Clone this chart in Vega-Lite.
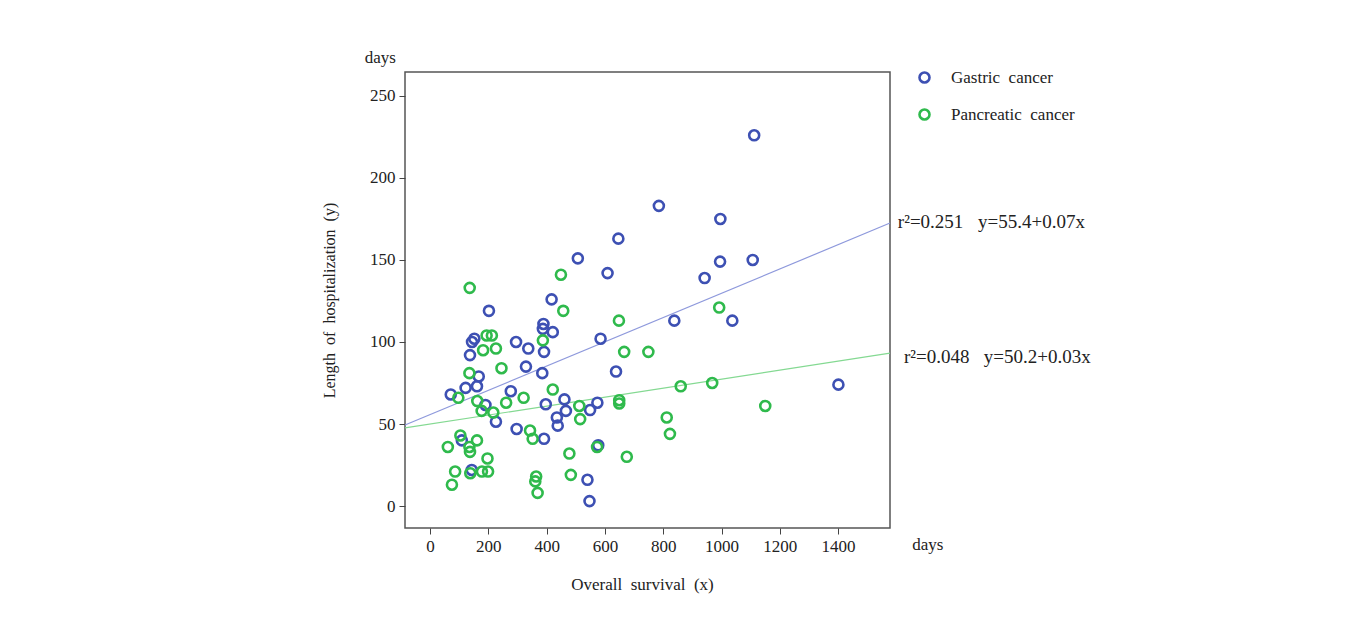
{
  "$schema": "https://vega.github.io/schema/vega-lite/v6.json",
  "width": 485,
  "height": 456,
  "autosize": {"type": "none"},
  "padding": {"left": 405, "top": 72, "right": 465, "bottom": 93},
  "background": "white",
  "config": {
    "view": {"stroke": "#555555", "strokeWidth": 1.5},
    "font": "Liberation Serif",
    "axis": {
      "grid": false,
      "domain": false,
      "tickColor": "#444444",
      "tickSize": 6,
      "labelFont": "Liberation Serif",
      "labelFontSize": 17,
      "labelColor": "#222222",
      "titleFont": "Liberation Serif",
      "titleFontSize": 17,
      "titleFontWeight": "normal",
      "titleColor": "#222222"
    }
  },
  "datasets": {
    "pts": [
      {"os": 1112, "los": 226, "group": "Gastric cancer"},
      {"os": 785, "los": 183, "group": "Gastric cancer"},
      {"os": 996, "los": 175, "group": "Gastric cancer"},
      {"os": 646, "los": 163, "group": "Gastric cancer"},
      {"os": 507, "los": 151, "group": "Gastric cancer"},
      {"os": 995, "los": 149, "group": "Gastric cancer"},
      {"os": 1107, "los": 150, "group": "Gastric cancer"},
      {"os": 609, "los": 142, "group": "Gastric cancer"},
      {"os": 942, "los": 139, "group": "Gastric cancer"},
      {"os": 417, "los": 126, "group": "Gastric cancer"},
      {"os": 202, "los": 119, "group": "Gastric cancer"},
      {"os": 838, "los": 113, "group": "Gastric cancer"},
      {"os": 1037, "los": 113, "group": "Gastric cancer"},
      {"os": 389, "los": 111, "group": "Gastric cancer"},
      {"os": 387, "los": 108, "group": "Gastric cancer"},
      {"os": 421, "los": 106, "group": "Gastric cancer"},
      {"os": 152, "los": 102, "group": "Gastric cancer"},
      {"os": 144, "los": 100, "group": "Gastric cancer"},
      {"os": 295, "los": 100, "group": "Gastric cancer"},
      {"os": 585, "los": 102, "group": "Gastric cancer"},
      {"os": 337, "los": 96, "group": "Gastric cancer"},
      {"os": 391, "los": 94, "group": "Gastric cancer"},
      {"os": 137, "los": 92, "group": "Gastric cancer"},
      {"os": 329, "los": 85, "group": "Gastric cancer"},
      {"os": 385, "los": 81, "group": "Gastric cancer"},
      {"os": 638, "los": 82, "group": "Gastric cancer"},
      {"os": 167, "los": 79, "group": "Gastric cancer"},
      {"os": 122, "los": 72, "group": "Gastric cancer"},
      {"os": 161, "los": 73, "group": "Gastric cancer"},
      {"os": 71, "los": 68, "group": "Gastric cancer"},
      {"os": 277, "los": 70, "group": "Gastric cancer"},
      {"os": 1401, "los": 74, "group": "Gastric cancer"},
      {"os": 397, "los": 62, "group": "Gastric cancer"},
      {"os": 461, "los": 65, "group": "Gastric cancer"},
      {"os": 466, "los": 58, "group": "Gastric cancer"},
      {"os": 435, "los": 54, "group": "Gastric cancer"},
      {"os": 438, "los": 49, "group": "Gastric cancer"},
      {"os": 574, "los": 63, "group": "Gastric cancer"},
      {"os": 549, "los": 58.5, "group": "Gastric cancer"},
      {"os": 190, "los": 61.6, "group": "Gastric cancer"},
      {"os": 226, "los": 51.4, "group": "Gastric cancer"},
      {"os": 297, "los": 47, "group": "Gastric cancer"},
      {"os": 391, "los": 41, "group": "Gastric cancer"},
      {"os": 109, "los": 40, "group": "Gastric cancer"},
      {"os": 577, "los": 37, "group": "Gastric cancer"},
      {"os": 143, "los": 22, "group": "Gastric cancer"},
      {"os": 540, "los": 16, "group": "Gastric cancer"},
      {"os": 547, "los": 3, "group": "Gastric cancer"},
      {"os": 449, "los": 141, "group": "Pancreatic cancer"},
      {"os": 136, "los": 133, "group": "Pancreatic cancer"},
      {"os": 457, "los": 119, "group": "Pancreatic cancer"},
      {"os": 648, "los": 113, "group": "Pancreatic cancer"},
      {"os": 194, "los": 104, "group": "Pancreatic cancer"},
      {"os": 212, "los": 104, "group": "Pancreatic cancer"},
      {"os": 387, "los": 101, "group": "Pancreatic cancer"},
      {"os": 182, "los": 95, "group": "Pancreatic cancer"},
      {"os": 226, "los": 96, "group": "Pancreatic cancer"},
      {"os": 666, "los": 94, "group": "Pancreatic cancer"},
      {"os": 749, "los": 94, "group": "Pancreatic cancer"},
      {"os": 245, "los": 84, "group": "Pancreatic cancer"},
      {"os": 135, "los": 81, "group": "Pancreatic cancer"},
      {"os": 421, "los": 71, "group": "Pancreatic cancer"},
      {"os": 97, "los": 66, "group": "Pancreatic cancer"},
      {"os": 162, "los": 64, "group": "Pancreatic cancer"},
      {"os": 177, "los": 58, "group": "Pancreatic cancer"},
      {"os": 217, "los": 57, "group": "Pancreatic cancer"},
      {"os": 261, "los": 63, "group": "Pancreatic cancer"},
      {"os": 321, "los": 66, "group": "Pancreatic cancer"},
      {"os": 512, "los": 61, "group": "Pancreatic cancer"},
      {"os": 515, "los": 53, "group": "Pancreatic cancer"},
      {"os": 649, "los": 64.5, "group": "Pancreatic cancer"},
      {"os": 649, "los": 62.5, "group": "Pancreatic cancer"},
      {"os": 812, "los": 54, "group": "Pancreatic cancer"},
      {"os": 823, "los": 44, "group": "Pancreatic cancer"},
      {"os": 860, "los": 73, "group": "Pancreatic cancer"},
      {"os": 968, "los": 75, "group": "Pancreatic cancer"},
      {"os": 992, "los": 121, "group": "Pancreatic cancer"},
      {"os": 1150, "los": 61, "group": "Pancreatic cancer"},
      {"os": 343, "los": 46, "group": "Pancreatic cancer"},
      {"os": 352, "los": 41, "group": "Pancreatic cancer"},
      {"os": 104, "los": 43, "group": "Pancreatic cancer"},
      {"os": 135, "los": 36, "group": "Pancreatic cancer"},
      {"os": 137, "los": 33, "group": "Pancreatic cancer"},
      {"os": 161, "los": 40, "group": "Pancreatic cancer"},
      {"os": 61, "los": 36, "group": "Pancreatic cancer"},
      {"os": 197, "los": 29, "group": "Pancreatic cancer"},
      {"os": 478, "los": 32, "group": "Pancreatic cancer"},
      {"os": 573, "los": 36, "group": "Pancreatic cancer"},
      {"os": 675, "los": 30, "group": "Pancreatic cancer"},
      {"os": 86, "los": 21, "group": "Pancreatic cancer"},
      {"os": 138, "los": 20, "group": "Pancreatic cancer"},
      {"os": 178, "los": 21, "group": "Pancreatic cancer"},
      {"os": 199, "los": 21, "group": "Pancreatic cancer"},
      {"os": 75, "los": 13, "group": "Pancreatic cancer"},
      {"os": 364, "los": 18, "group": "Pancreatic cancer"},
      {"os": 361, "los": 15, "group": "Pancreatic cancer"},
      {"os": 369, "los": 8, "group": "Pancreatic cancer"},
      {"os": 483, "los": 19, "group": "Pancreatic cancer"}
    ],
    "fits": [
      {"os": -86, "los": 49.4, "group": "Gastric cancer"},
      {"os": 1578, "los": 172.5, "group": "Gastric cancer"},
      {"os": -86, "los": 47.6, "group": "Pancreatic cancer"},
      {"os": 1578, "los": 93.2, "group": "Pancreatic cancer"}
    ],
    "notes": [
      {"os": 1605, "los": 173.2, "label": "r²=0.251"},
      {"os": 1880, "los": 173.2, "label": "y=55.4+0.07x"},
      {"os": 1626, "los": 90.9, "label": "r²=0.048"},
      {"os": 1900, "los": 90.9, "label": "y=50.2+0.03x"}
    ],
    "units": [
      {"os": -171, "los": 273, "label": "days"},
      {"os": 1708, "los": -23.8, "label": "days"}
    ]
  },
  "layer": [
    {
      "data": {"name": "fits"},
      "transform": [{"filter": "datum.group === 'Gastric cancer'"}],
      "mark": {"type": "line", "color": "#8e99dc", "strokeWidth": 1.2},
      "encoding": {
        "x": {"field": "os", "type": "quantitative", "scale": {"domain": [-86, 1578], "nice": false, "zero": false}},
        "y": {"field": "los", "type": "quantitative", "scale": {"domain": [-13.4, 264.6], "nice": false, "zero": false}}
      }
    },
    {
      "data": {"name": "fits"},
      "transform": [{"filter": "datum.group === 'Pancreatic cancer'"}],
      "mark": {"type": "line", "color": "#84d992", "strokeWidth": 1.2},
      "encoding": {
        "x": {"field": "os", "type": "quantitative"},
        "y": {"field": "los", "type": "quantitative"}
      }
    },
    {
      "data": {"name": "pts"},
      "mark": {"type": "point", "shape": "circle", "filled": false, "size": 100, "strokeWidth": 2.6, "opacity": 1},
      "encoding": {
        "x": {
          "field": "os", "type": "quantitative",
          "axis": {"values": [0, 200, 400, 600, 800, 1000, 1200, 1400], "format": "d", "labelPadding": 4, "title": "Overall\u00a0\u00a0survival\u00a0\u00a0(x)", "titleX": 237, "titleY": 56, "titleBaseline": "middle", "titleAlign": "center"}
        },
        "y": {
          "field": "los", "type": "quantitative",
          "axis": {"values": [0, 50, 100, 150, 200, 250], "labelPadding": 4, "title": "Length\u00a0\u00a0of\u00a0\u00a0hospitalization\u00a0\u00a0(y)", "titleFontSize": 16, "titleX": -76, "titleY": 228, "titleBaseline": "middle", "titleAlign": "center", "titleAngle": -90}
        },
        "color": {
          "field": "group", "type": "nominal",
          "scale": {"domain": ["Gastric cancer", "Pancreatic cancer"], "range": ["#3d50b3", "#2fba4c"]},
          "legend": {
            "title": null, "orient": "none", "legendX": 511, "legendY": -3,
            "padding": 0, "rowPadding": 16, "labelOffset": 18,
            "symbolType": "circle", "symbolSize": 100, "symbolStrokeWidth": 2.6, "symbolFillColor": "transparent",
            "labelFont": "Liberation Serif", "labelFontSize": 17, "labelColor": "#222222",
            "labelExpr": "replace(datum.label, ' ', '\u00a0\u00a0')"
          }
        }
      }
    },
    {
      "data": {"name": "notes"},
      "mark": {"type": "text", "align": "left", "baseline": "middle", "font": "Liberation Serif", "fontSize": 19, "color": "#222222", "clip": false},
      "encoding": {
        "x": {"field": "os", "type": "quantitative"},
        "y": {"field": "los", "type": "quantitative"},
        "text": {"field": "label", "type": "nominal"}
      }
    },
    {
      "data": {"name": "units"},
      "mark": {"type": "text", "align": "center", "baseline": "middle", "font": "Liberation Serif", "fontSize": 17, "color": "#222222", "clip": false},
      "encoding": {
        "x": {"field": "os", "type": "quantitative"},
        "y": {"field": "los", "type": "quantitative"},
        "text": {"field": "label", "type": "nominal"}
      }
    }
  ]
}
